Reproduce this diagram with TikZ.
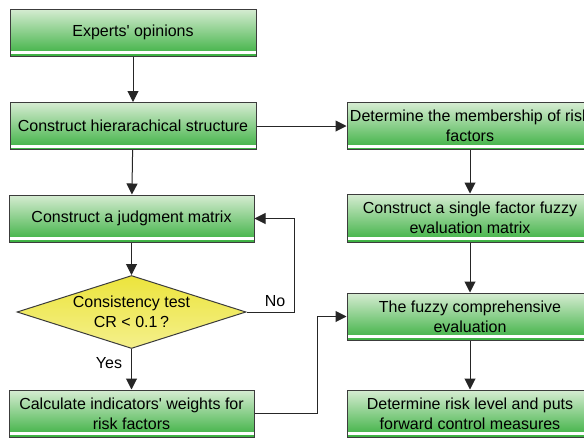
\documentclass[tikz,border=0pt]{standalone}
\usepackage{fontspec}
\setmainfont{Liberation Sans}
\usetikzlibrary{shapes.geometric,arrows.meta}
\definecolor{gtop}{RGB}{214,236,210}
\definecolor{gbot}{RGB}{58,176,64}
\definecolor{ytop}{RGB}{236,228,60}
\definecolor{ybot}{RGB}{244,240,140}
\definecolor{edge}{RGB}{60,60,60}
\tikzset{
  gbox/.style={rectangle, draw=edge, line width=1pt, minimum width=246pt, minimum height=47pt,
    inner sep=0pt, top color=gtop, bottom color=gbot, align=center,
    font=\fontsize{16}{20}\selectfont, text=black,
    path picture={\fill[white] ([yshift=1.6pt]path picture bounding box.south west) rectangle ([yshift=4.6pt]path picture bounding box.south east);}},
  dia/.style={diamond, draw=edge, line width=1pt, minimum width=229pt, minimum height=73pt,
    inner sep=0pt, top color=ytop, bottom color=ybot},
  txt/.style={align=center, font=\fontsize{16}{20}\selectfont, text=black, inner sep=0pt},
  conn/.style={draw=black!85, line width=1pt, -{Triangle[length=11pt,width=11pt]}},
  plain/.style={draw=black!85, line width=1pt}
}
\begin{document}
\begin{tikzpicture}[x=1pt,y=-1pt]
\useasboundingbox (0,0) rectangle (584,437);
\fill[white] (0,0) rectangle (584,437);
\clip (0,0) rectangle (584,437);
\node[gbox] (b1) at (133,32.5) {Experts\textquotesingle{} opinions};
\node[gbox] (b2) at (133,126) {Construct hierarachical structure};
\node[gbox, minimum width=245pt] (b3) at (131.5,218.5) {Construct a judgment matrix};
\node[dia] (d) at (131.5,312) {};
\node[txt] (dt) at (131.5,312) {Consistency test\\CR < 0.1\,?};
\node[gbox, minimum width=245pt] (b4) at (131.5,413.5) {Calculate indicators\textquotesingle{} weights for\\risk factors};
\node[gbox] (r1) at (470,126) {Determine the membership of risk\\factors};
\node[gbox, minimum height=48pt] (r2) at (470,218) {Construct a single factor fuzzy\\evaluation matrix};
\node[gbox] (r3) at (470,316.5) {The fuzzy comprehensive\\evaluation};
\node[gbox] (r4) at (470,413.5) {Determine risk level and puts\\forward control measures};
\coordinate (nocorner) at (294,312);
\coordinate (ycorner) at (317,413.5);
\draw[conn] (b1) -- (b2);
\draw[conn] (b2) -- (b3);
\draw[conn] (b3) -- (d);
\draw[conn] (d) -- node[txt, pos=0.35, left=9pt] (yes) {Yes} (b4);
\draw[conn] (d.east) -- (nocorner) |- (b3.east);
\node[txt] (no) at (275,301) {No};
\draw[conn] (b2) -- (r1);
\draw[conn] (r1) -- (r2);
\draw[conn] (r2) -- (r3);
\draw[conn] (r3) -- (r4);
\draw[conn] (b4.east) -- (ycorner) |- (r3.west);
\end{tikzpicture}
\end{document}
